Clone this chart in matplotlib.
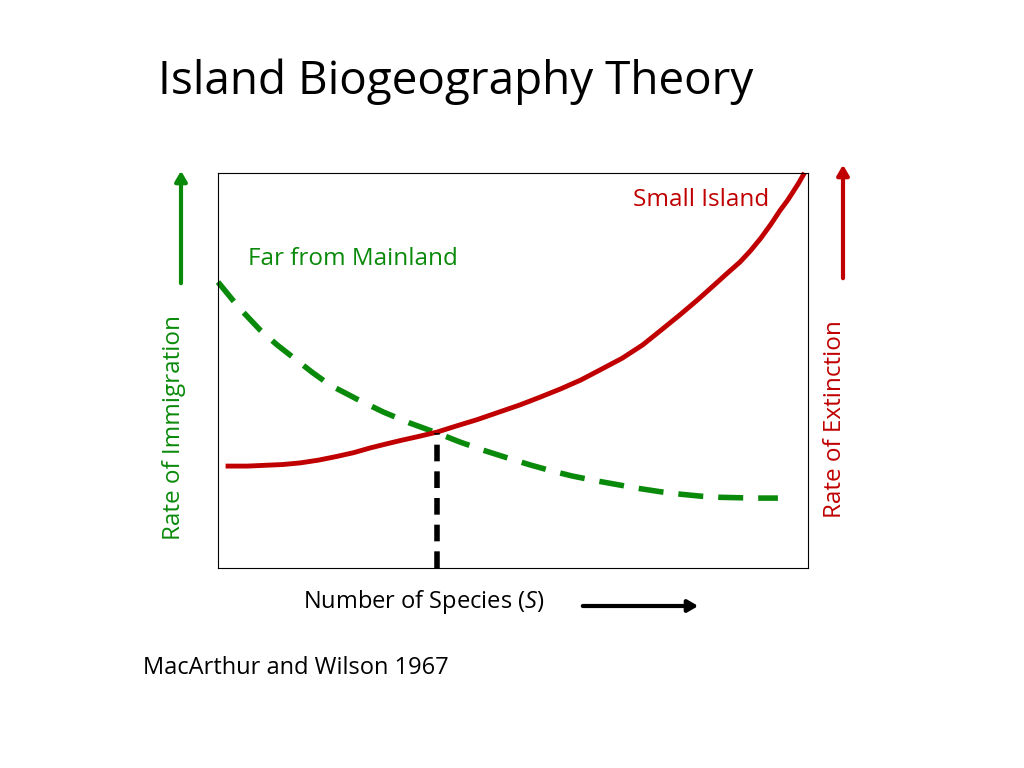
import matplotlib
matplotlib.use("Agg")
import matplotlib.pyplot as plt

plt.rcParams['font.family'] = ['Open Sans', 'DejaVu Sans']
plt.rcParams['mathtext.fontset'] = 'custom'
plt.rcParams['mathtext.it'] = 'Open Sans:italic'
plt.rcParams['mathtext.rm'] = 'Open Sans'

imm_x = [0, 3.5, 7.1, 10, 13, 16, 19, 23.5, 28, 32.5, 37.1, 41, 45, 49, 52.9, 56.5, 60, 64, 68.1, 71.5, 75, 78.3, 81.7, 85, 88, 91.5, 94.9]
imm_y = [72.4, 66.0, 60.3, 56.5, 53, 49.5, 46.3, 42.8, 39.5, 36.7, 34.2, 31.9, 29.8, 27.9, 26.1, 24.6, 23.3, 22.1, 21.0, 20.1, 19.3, 18.7, 18.2, 17.9, 17.8, 17.7, 17.7]
ext_x = [1.7, 5, 8, 11, 13.9, 17, 20, 23, 25.8, 28.5, 31, 34, 37.1, 40.5, 44, 47.5, 51.2, 54.5, 58, 61.5, 64.7, 68.5, 72, 75, 78.3, 81.3, 84, 86.3, 88.5, 90.3, 92, 93.7, 95.3, 96.5, 97.5, 98.4, 99.2]
ext_y = [25.8, 25.8, 26.0, 26.2, 26.6, 27.3, 28.2, 29.2, 30.4, 31.4, 32.3, 33.3, 34.4, 36.0, 37.6, 39.4, 41.3, 43.2, 45.3, 47.6, 50.1, 53.1, 56.5, 60.1, 64.1, 67.9, 71.5, 74.6, 77.5, 80.4, 83.5, 87.0, 90.6, 93.0, 95.3, 97.4, 99.5]
eq_x = 37.1
eq_y = 34.3

fig = plt.figure(figsize=(10.24, 7.68), dpi=100)
ax = fig.add_axes([218/1024, 1-568/768, 590/1024, 395/768])
ax.set_xlim(0, 100)
ax.set_ylim(0, 100)
ax.set_xticks([]); ax.set_yticks([])
ax.plot(imm_x, imm_y, color='#0a8a0a', lw=4, ls=(0, (4.5, 2.7)), clip_on=False)
ax.plot(ext_x, ext_y, color='#c00000', lw=3.5, clip_on=False, solid_joinstyle='round')
ax.plot([eq_x, eq_x], [0, eq_y], color='black', lw=4, ls=(0, (3, 1.8)))
ax.text(5.1, 78.2, 'Far from Mainland', color='#0a8a0a', fontsize=17.5, ha='left', va='center')
ax.text(93.5, 93.2, 'Small Island', color='#c00000', fontsize=17.5, ha='right', va='center')

fig.text(158/1024, 1-82/768, 'Island Biogeography Theory', fontsize=33, ha='left', va='center')
fig.text(174/1024, 1-427/768, 'Rate of Immigration', color='#0a8a0a', fontsize=17.5, rotation=90, ha='center', va='center')
fig.text(835/1024, 1-419/768, 'Rate of Extinction', color='#c00000', fontsize=17.5, rotation=90, ha='center', va='center')
fig.text(424/1024, 1-602/768, 'Number of Species ($\\mathit{S}$)', fontsize=17, ha='center', va='center')
fig.text(143/1024, 1-668/768, 'MacArthur and Wilson 1967', fontsize=17, ha='left', va='center')

def farrow(x0, y0, x1, y1, c):
    fig.add_artist(matplotlib.patches.FancyArrowPatch(
        (x0/1024, 1-y0/768), (x1/1024, 1-y1/768), transform=fig.transFigure,
        arrowstyle='-|>,head_length=6,head_width=3.5', color=c, lw=3))

farrow(181, 286, 181, 168, '#0a8a0a')
farrow(843, 281, 843, 162, '#c00000')
farrow(580, 606, 701, 606, 'black')

fig.savefig('out.png', dpi=100)
